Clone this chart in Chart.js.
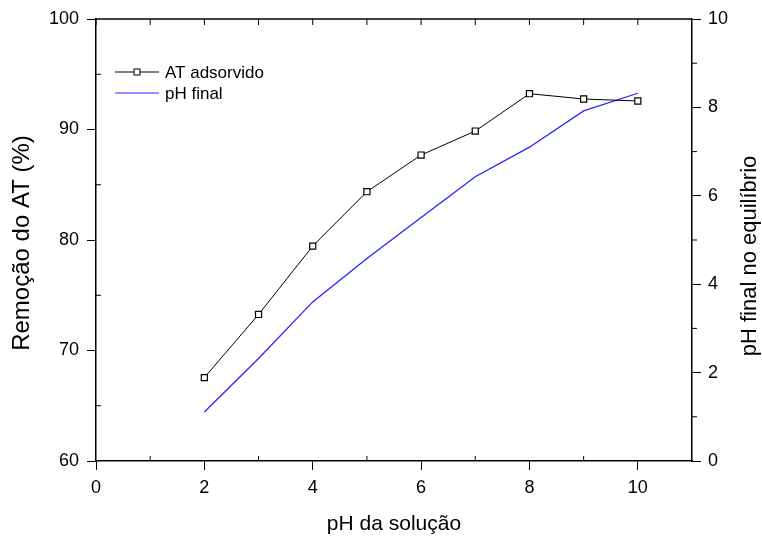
<!DOCTYPE html>
<html>
<head>
<meta charset="utf-8">
<script src="https://cdn.jsdelivr.net/npm/chart.js@4.4.1/dist/chart.umd.min.js"></script>
<style>
  html, body { margin: 0; padding: 0; background: #fff; }
  #wrap { width: 762px; height: 536px; }
</style>
</head>
<body>
<div id="wrap"><canvas id="grafico" width="762" height="536"></canvas></div>
<script>
// dados
const phSolucao = [2, 3, 4, 5, 6, 7, 8, 9, 10];
const atAdsorvido = [67.55, 73.26, 79.45, 84.37, 87.69, 89.86, 93.24, 92.76, 92.58];
const phFinal = [1.11, 2.32, 3.60, 4.58, 5.51, 6.43, 7.10, 7.92, 8.32];

// ticks
const xTicks = [0, 2, 4, 6, 8, 10];
const xMinor = [1, 3, 5, 7, 9];
const yTicks = [60, 70, 80, 90, 100];
const yMinor = [65, 75, 85, 95];
const y1Ticks = [0, 2, 4, 6, 8, 10];
const y1Minor = [1, 3, 5, 7, 9];

const azul = '#2424ff';
const fonte = '"Liberation Sans", Arial, sans-serif';

Chart.defaults.font.family = fonte;
Chart.defaults.color = '#000';

function toPoints(xs, ys) {
    const pts = [];
    for (let i = 0; i < xs.length; i++) {
        pts.push({ x: xs[i], y: ys[i] });
    }
    return pts;
}

function setTicks(list) {
    return function (scale) {
        scale.ticks = list.map(function (v) { return { value: v }; });
    };
}

// minor ticks, top axis, titles and legend
const extras = {
    id: 'extras',
    afterDraw(chart) {
        const ctx = chart.ctx;
        const area = chart.chartArea;
        const sx = chart.scales.x;
        const sy = chart.scales.y;
        const sy1 = chart.scales.y1;

        ctx.save();
        ctx.strokeStyle = '#000';
        ctx.lineWidth = 1.5;
        ctx.beginPath();
        ctx.moveTo(area.left, area.top);
        ctx.lineTo(area.right, area.top);
        ctx.stroke();

        ctx.lineWidth = 1;
        ctx.beginPath();
        xTicks.concat(xMinor).forEach(function (v) {
            const px = sx.getPixelForValue(v);
            ctx.moveTo(px, area.top);
            ctx.lineTo(px, area.top + 6);
        });
        xMinor.forEach(function (v) {
            const px = sx.getPixelForValue(v);
            ctx.moveTo(px, area.bottom);
            ctx.lineTo(px, area.bottom - 5);
        });
        yMinor.forEach(function (v) {
            const py = sy.getPixelForValue(v);
            ctx.moveTo(area.left, py);
            ctx.lineTo(area.left + 5, py);
        });
        y1Minor.forEach(function (v) {
            const py = sy1.getPixelForValue(v);
            ctx.moveTo(area.right, py);
            ctx.lineTo(area.right + 5, py);
        });
        ctx.stroke();

        // axis titles
        ctx.fillStyle = '#000';
        ctx.textAlign = 'center';
        ctx.textBaseline = 'middle';

        ctx.save();
        ctx.font = '24px ' + fonte;
        ctx.translate(22, 243);
        ctx.rotate(-Math.PI / 2);
        ctx.fillText('Remoção do AT (%)', 0, 0);
        ctx.restore();

        ctx.save();
        ctx.font = '22px ' + fonte;
        ctx.translate(750, 256);
        ctx.rotate(-Math.PI / 2);
        ctx.fillText('pH final no equilíbrio', 0, 0);
        ctx.restore();

        ctx.font = '21px ' + fonte;
        ctx.textBaseline = 'alphabetic';
        ctx.fillText('pH da solução', (area.left + area.right) / 2, 530);

        // legend
        ctx.textAlign = 'left';
        ctx.font = '17px ' + fonte;
        ctx.strokeStyle = '#000';
        ctx.lineWidth = 1;
        ctx.beginPath();
        ctx.moveTo(115, 72);
        ctx.lineTo(159, 72);
        ctx.stroke();
        ctx.fillStyle = '#fff';
        ctx.fillRect(134, 69, 6, 6);
        ctx.strokeRect(134, 69, 6, 6);
        ctx.fillStyle = '#000';
        ctx.fillText('AT adsorvido', 165, 77.5);

        ctx.strokeStyle = azul;
        ctx.lineWidth = 1.2;
        ctx.beginPath();
        ctx.moveTo(115, 93);
        ctx.lineTo(159, 93);
        ctx.stroke();
        ctx.fillText('pH final', 165, 99);

        ctx.restore();
    }
};

const ctxGrafico = document.getElementById('grafico').getContext('2d');

const myChart = new Chart(ctxGrafico, {
    type: 'line',
    data: {
        datasets: [{
            label: 'AT adsorvido',
            data: toPoints(phSolucao, atAdsorvido),
            yAxisID: 'y',
            borderColor: '#000',
            borderWidth: 1,
            pointStyle: 'rect',
            pointRadius: 4.3,
            pointBorderWidth: 1.2,
            pointBackgroundColor: '#fff',
            pointBorderColor: '#000',
            tension: 0
        }, {
            label: 'pH final',
            data: toPoints(phSolucao, phFinal),
            yAxisID: 'y1',
            borderColor: azul,
            borderWidth: 1.3,
            pointRadius: 0,
            tension: 0
        }]
    },
    options: {
        responsive: false,
        animation: false,
        layout: { padding: { top: 19, left: 0, right: 0, bottom: 0 } },
        plugins: {
            legend: { display: false },
            tooltip: { enabled: false }
        },
        scales: {
            x: {
                type: 'linear',
                min: 0,
                max: 11,
                afterBuildTicks: setTicks(xTicks),
                afterFit: function (scale) { scale.height = 75; },
                ticks: { font: { size: 18 }, padding: 7, maxRotation: 0 },
                grid: { drawOnChartArea: false, tickLength: 9, color: '#000' },
                border: { color: '#000', width: 1.5 }
            },
            y: {
                type: 'linear',
                position: 'left',
                min: 60,
                max: 100,
                afterBuildTicks: setTicks(yTicks),
                afterFit: function (scale) { scale.width = 96; },
                ticks: { font: { size: 18 }, padding: 8 },
                grid: { drawOnChartArea: false, tickLength: 9, color: '#000' },
                border: { color: '#000', width: 1.5 }
            },
            y1: {
                type: 'linear',
                position: 'right',
                min: 0,
                max: 10,
                afterBuildTicks: setTicks(y1Ticks),
                afterFit: function (scale) { scale.width = 70; },
                ticks: { font: { size: 18 }, padding: 7 },
                grid: { drawOnChartArea: false, tickLength: 9, color: '#000' },
                border: { color: '#000', width: 1.5 }
            }
        }
    },
    plugins: [extras]
});
</script>
</body>
</html>
